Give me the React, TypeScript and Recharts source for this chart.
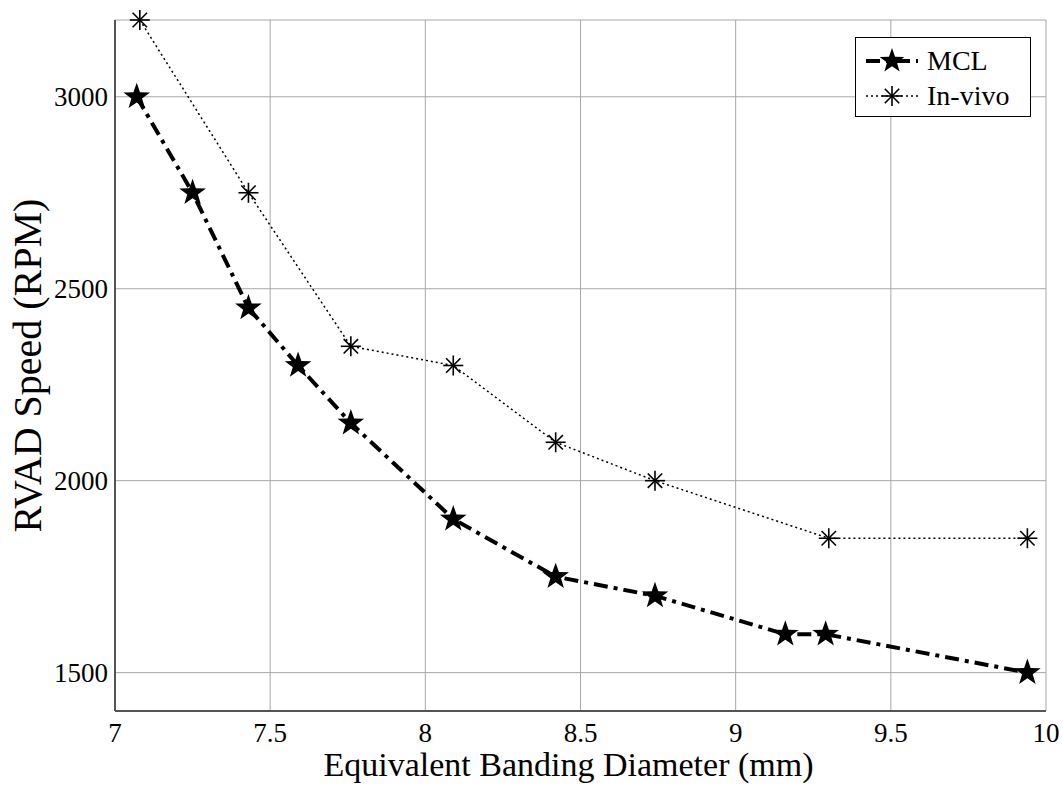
import { CartesianGrid, Legend, Line, LineChart, XAxis, YAxis } from "recharts";

// equivalent banding diameter (mm) vs RVAD speed (RPM)
const mclDiameter = [7.07, 7.25, 7.43, 7.59, 7.76, 8.09, 8.42, 8.74, 9.16, 9.29, 9.94];
const mclSpeed = [3000, 2750, 2450, 2300, 2150, 1900, 1750, 1700, 1600, 1600, 1500];
const vivoDiameter = [7.08, 7.43, 7.76, 8.09, 8.42, 8.74, 9.3, 9.94];
const vivoSpeed = [3200, 2750, 2350, 2300, 2100, 2000, 1850, 1850];

const xTicks = [7, 7.5, 8, 8.5, 9, 9.5, 10];
const yTicks = [1500, 2000, 2500, 3000];

const mclData = mclDiameter.map((d, i) => ({ d, speed: mclSpeed[i] }));
const vivoData = vivoDiameter.map((d, i) => ({ d, speed: vivoSpeed[i] }));

const FONT = '"Liberation Serif", "Times New Roman", serif';
const AXIS = "#555";
const MCL_DASH = "14 6 4 6";
const VIVO_DASH = "2 3";
const TICK_FS = 27;
const serif = (size: number) => ({ fontFamily: FONT, fontSize: size, fill: "#000" });

function starPath(cx: number, cy: number, R: number) {
  const r = R * 0.4;
  let d = "";
  for (let i = 0; i < 10; i++) {
    const rad = i % 2 === 0 ? R : r;
    const a = -Math.PI / 2 + (i * Math.PI) / 5;
    d += (i === 0 ? "M" : "L") + (cx + rad * Math.cos(a)).toFixed(2) + "," + (cy + rad * Math.sin(a)).toFixed(2);
  }
  return d + "Z";
}

const StarDot = (props: any) => {
  const { cx, cy, index } = props;
  if (cx == null || cy == null) return <g key={index} />;
  return <path key={index} d={starPath(cx, cy, 14)} fill="#000" />;
};

function asterisk(cx: number, cy: number, r: number, key?: any) {
  const k = r * 0.72;
  return (
    <g key={key} stroke="#000" strokeWidth={1.6}>
      <line x1={cx - r} y1={cy} x2={cx + r} y2={cy} />
      <line x1={cx} y1={cy - r} x2={cx} y2={cy + r} />
      <line x1={cx - k} y1={cy - k} x2={cx + k} y2={cy + k} />
      <line x1={cx - k} y1={cy + k} x2={cx + k} y2={cy - k} />
    </g>
  );
}

const AsteriskDot = (props: any) => {
  const { cx, cy, index } = props;
  if (cx == null || cy == null) return <g key={index} />;
  return asterisk(cx, cy, 10, index);
};

const XTick = (props: any) => {
  const { x, y, payload } = props;
  return (
    <text x={x} y={y} dy={TICK_FS * 0.66} textAnchor="middle" style={serif(TICK_FS)}>
      {payload.value}
    </text>
  );
};

const YTick = (props: any) => {
  const { x, y, payload } = props;
  return (
    <text x={x} y={y} dy={TICK_FS * 0.33} textAnchor="end" style={serif(TICK_FS)}>
      {payload.value}
    </text>
  );
};

const LegendBox = () => (
  <svg width={176} height={80} style={{ display: "block" }}>
    <rect x={0.5} y={0.5} width={175} height={79} fill="#fff" stroke="#000" strokeWidth={1} />
    <line x1={11} y1={24} x2={63} y2={24} stroke="#000" strokeWidth={4} strokeDasharray={MCL_DASH} />
    <path d={starPath(37, 24, 13)} fill="#000" />
    <text x={72} y={33} style={serif(28)}>MCL</text>
    <line x1={11} y1={59} x2={63} y2={59} stroke="#000" strokeWidth={1.5} strokeDasharray={VIVO_DASH} />
    {asterisk(37, 59, 10)}
    <text x={72} y={68} style={serif(28)}>In-vivo</text>
  </svg>
);

export default function App() {
  return (
    <div style={{ position: "absolute", left: 0, top: 0, width: 1063, height: 787, background: "#fff", fontFamily: FONT }}>
      <LineChart width={1063} height={787} margin={{ top: 20, right: 17, left: 0, bottom: 0 }}>
        <CartesianGrid stroke="#a8a8a8" strokeWidth={1} />
        <XAxis
          type="number"
          dataKey="d"
          domain={[7, 10]}
          ticks={xTicks}
          allowDuplicatedCategory={false}
          height={76}
          tickLine={false}
          tickSize={0}
          tickMargin={13}
          tick={XTick}
          axisLine={{ stroke: AXIS, strokeWidth: 2 }}
          label={{
            value: "Equivalent Banding Diameter (mm)",
            position: "insideBottom",
            offset: 11,
            dx: -12,
            style: serif(34),
          }}
        />
        <XAxis xAxisId="b2" type="number" dataKey="d" domain={[7, 10]} ticks={xTicks} mirror height={0} tick={false} tickSize={5} axisLine={false} tickLine={{ stroke: "#000" }} />
        <XAxis xAxisId="t" orientation="top" type="number" dataKey="d" domain={[7, 10]} ticks={xTicks} mirror height={0} tick={false} tickSize={5} axisLine={{ stroke: AXIS, strokeWidth: 2 }} tickLine={{ stroke: "#000" }} />
        <YAxis
          type="number"
          domain={[1400, 3200]}
          ticks={yTicks}
          width={115}
          tickLine={false}
          tickSize={0}
          tickMargin={7}
          tick={YTick}
          axisLine={{ stroke: AXIS, strokeWidth: 2 }}
          label={{
            value: "RVAD Speed (RPM)",
            angle: -90,
            position: "insideLeft",
            offset: 27,
            style: { ...serif(40), textAnchor: "middle" },
          }}
        />
        <YAxis yAxisId="l2" type="number" domain={[1400, 3200]} ticks={yTicks} mirror width={0} tick={false} tickSize={5} axisLine={false} tickLine={{ stroke: "#000" }} />
        <YAxis yAxisId="r" orientation="right" type="number" domain={[1400, 3200]} ticks={yTicks} mirror width={0} tick={false} tickSize={5} axisLine={{ stroke: AXIS, strokeWidth: 2 }} tickLine={{ stroke: "#000" }} />
        <Legend
          layout="vertical"
          align="center"
          verticalAlign="middle"
          content={() => <LegendBox />}
          wrapperStyle={{ position: "absolute", left: 855, top: 37, width: 176, height: 80 }}
        />
        <Line
          data={vivoData}
          dataKey="speed"
          name="In-vivo"
          stroke="#000"
          strokeWidth={1.5}
          strokeDasharray={VIVO_DASH}
          dot={AsteriskDot}
          activeDot={false}
          isAnimationActive={false}
        />
        <Line
          data={mclData}
          dataKey="speed"
          name="MCL"
          stroke="#000"
          strokeWidth={4}
          strokeDasharray={MCL_DASH}
          dot={StarDot}
          activeDot={false}
          isAnimationActive={false}
        />
      </LineChart>
    </div>
  );
}
